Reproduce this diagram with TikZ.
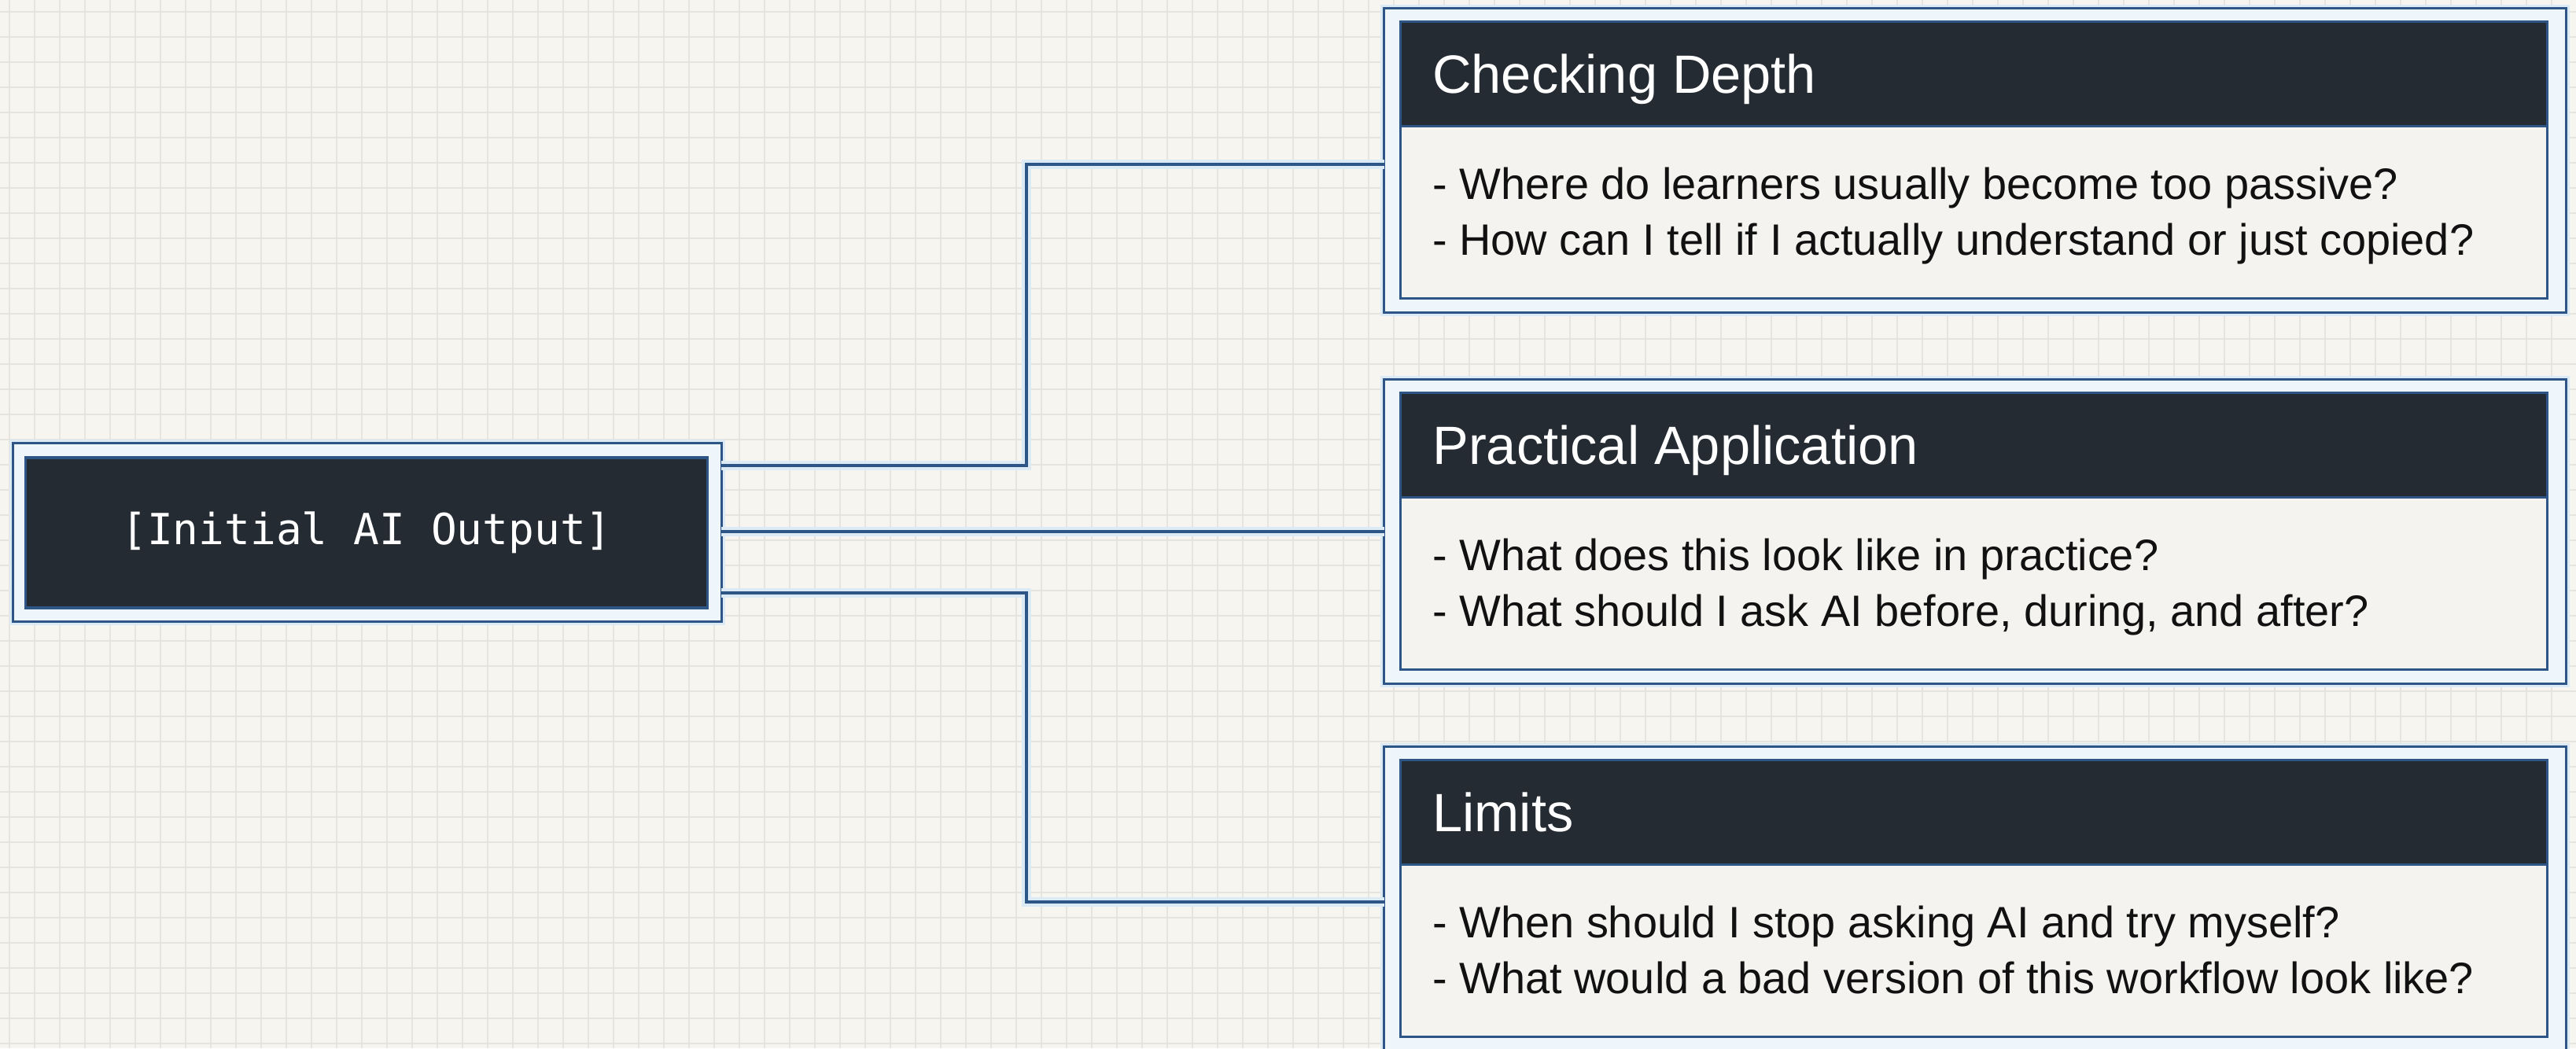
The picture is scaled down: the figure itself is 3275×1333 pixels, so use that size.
\documentclass[tikz,border=0pt]{standalone}
\usepackage{fontspec}
\setmainfont{Liberation Sans}
\newfontfamily\monofont{DejaVu Sans Mono}
\usetikzlibrary{calc}
\definecolor{bgcol}{HTML}{F6F5F0}
\definecolor{gridcol}{HTML}{E6E4DE}
\definecolor{lineblue}{HTML}{2D5687}
\definecolor{glowcol}{HTML}{DCEAF6}
\definecolor{bandcol}{HTML}{EEF5FB}
\definecolor{darkcol}{HTML}{252B33}
\definecolor{bodycol}{HTML}{F4F3EF}
\definecolor{textcol}{HTML}{111111}
\begin{document}
\begin{tikzpicture}[x=0.01cm,y=-0.01cm,
  gridline/.style={draw=gridcol, line width=0.55pt},
  conn/.style={draw=lineblue, line width=1.35pt, preaction={draw=glowcol, line width=3.2pt}},
  outerbox/.style={draw=lineblue, line width=0.9pt, fill=bandcol, inner sep=0pt, outer sep=0pt,
     preaction={draw=glowcol, line width=2.6pt}},
  innerbox/.style={draw=lineblue, line width=0.9pt, fill=bodycol, inner sep=0pt, outer sep=0pt},
  darkbox/.style={draw=lineblue, line width=0.9pt, fill=darkcol, inner sep=0pt, outer sep=0pt},
  headtext/.style={inner sep=0pt, text=white, font=\fontsize{19.5}{23}\selectfont},
  bodytext/.style={inner sep=0pt, text=textcol, font=\fontsize{15.9}{19}\selectfont},
  monotext/.style={inner sep=0pt, text=white, font=\monofont\fontsize{15.5}{18}\selectfont}
]
\useasboundingbox (0,0) rectangle (3275,1333);
\fill[bgcol] (0,0) rectangle (3275,1333);
\foreach \x in {12,44,...,3275} \draw[gridline] (\x,0) -- (\x,1333);
\foreach \y in {15,47,...,1333} \draw[gridline] (0,\y) -- (3275,\y);

% initial node
\node[outerbox, minimum width=9.00cm, minimum height=2.27cm] (init) at (467,677) {};
\node[darkbox, minimum width=8.66cm, minimum height=1.91cm] (initin) at (466,677.5) {};
\node[monotext] (inittext) at (initin.center) {[Initial AI Output]};

% right boxes
\foreach \n/\cy in {1/204, 2/676, 3/1143} {
  \node[outerbox, minimum width=15.02cm, minimum height=3.87cm] (box\n) at (2511,\cy) {};
  \node[innerbox, minimum width=14.57cm, minimum height=3.52cm] (in\n) at (2509.5,\cy-0.5) {};
  \node[darkbox, anchor=north, minimum width=14.57cm, minimum height=1.33cm] (head\n) at (in\n.north) {};
}

\node[headtext, anchor=base west] (t1) at ([xshift=0.4cm, yshift=-0.25cm]head1.west) {Checking Depth};
\node[headtext, anchor=base west] (t2) at ([xshift=0.4cm, yshift=-0.25cm]head2.west) {Practical Application};
\node[headtext, anchor=base west] (t3) at ([xshift=0.4cm, yshift=-0.25cm]head3.west) {Limits};

\foreach \n in {1,2,3} {
  \coordinate (mid\n) at ($(head\n.south west)!0.5!(in\n.south west)$);
}
\node[bodytext, anchor=base west] (q1a) at ([xshift=0.4cm, yshift=0.17cm]mid1) {- Where do learners usually become too passive?};
\node[bodytext, anchor=base west] (q1b) at ([xshift=0.4cm, yshift=-0.54cm]mid1) {- How can I tell if I actually understand or just copied?};
\node[bodytext, anchor=base west] (q2a) at ([xshift=0.4cm, yshift=0.17cm]mid2) {- What does this look like in practice?};
\node[bodytext, anchor=base west] (q2b) at ([xshift=0.4cm, yshift=-0.54cm]mid2) {- What should I ask AI before, during, and after?};
\node[bodytext, anchor=base west] (q3a) at ([xshift=0.4cm, yshift=0.17cm]mid3) {- When should I stop asking AI and try myself?};
\node[bodytext, anchor=base west] (q3b) at ([xshift=0.4cm, yshift=-0.54cm]mid3) {- What would a bad version of this workflow look like?};

% connectors
\coordinate (jx) at (1305,677);
\draw[conn] ([yshift=0.85cm]init.east) -| ([yshift=-0.05cm]jx |- box1.west) -- ([yshift=-0.05cm]box1.west);
\draw[conn] ([yshift=0.01cm]init.east) -- (box2.west);
\draw[conn] ([yshift=-0.77cm]init.east) -| ([yshift=-0.04cm]jx |- box3.west) -- ([yshift=-0.04cm]box3.west);
\end{tikzpicture}
\end{document}
